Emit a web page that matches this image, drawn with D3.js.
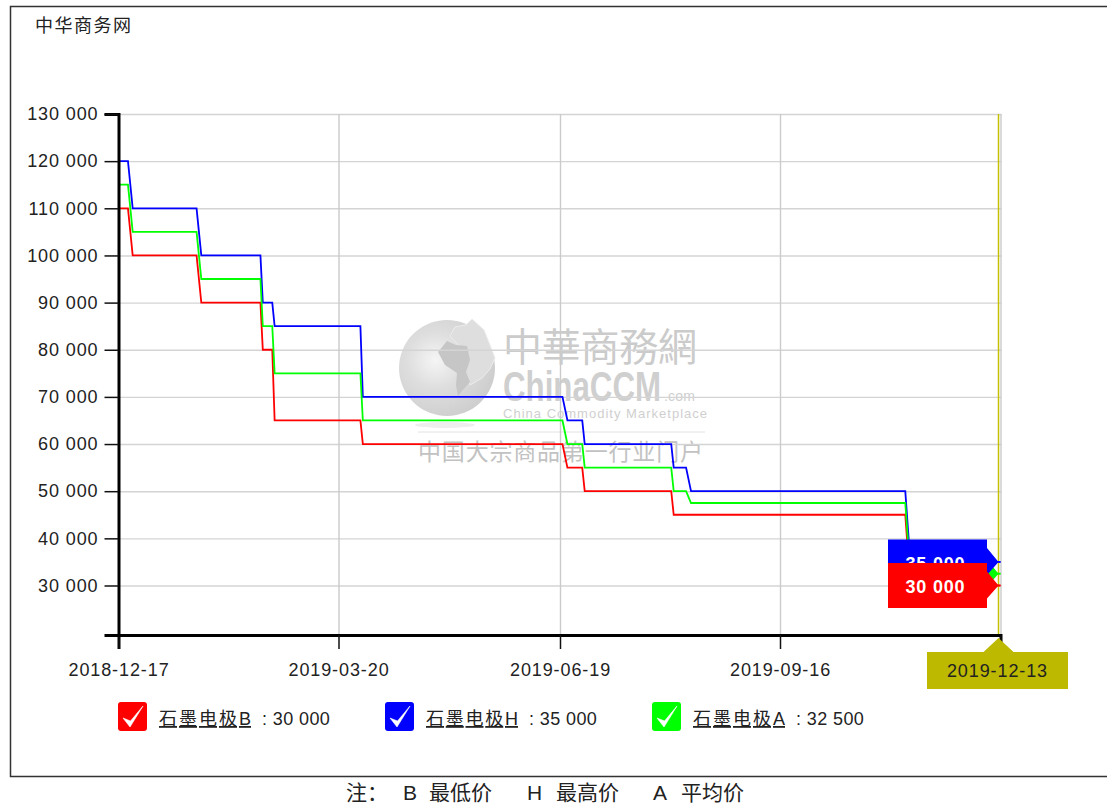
<!DOCTYPE html>
<html>
<head>
<meta charset="utf-8">
<script src="https://cdn.jsdelivr.net/npm/d3@7/dist/d3.min.js"></script>
<style>
body { margin: 0; background: #fff; }
svg { display: block; }
text { font-family: "Liberation Sans", "Noto Sans CJK SC", sans-serif; fill: #222; }
</style>
</head>
<body>
<div id="plot"></div>
<script>
var w = 1107;
var h = 806;

// tick labels
var xTickLabels = ["2018-12-17", "2019-03-20", "2019-06-19", "2019-09-16", "2019-12-13"];
var yTickValues = [30000, 40000, 50000, 60000, 70000, 80000, 90000, 100000, 110000, 120000, 130000];

// dates where the step lines change
var dates = ["2018-12-17", "2018-12-21", "2018-12-23", "2019-01-19", "2019-01-21", "2019-02-15",
             "2019-02-16", "2019-02-20", "2019-02-21", "2019-03-29", "2019-03-30", "2019-06-20",
             "2019-06-22", "2019-06-28", "2019-06-29", "2019-08-03", "2019-08-04", "2019-08-09",
             "2019-08-11", "2019-11-05", "2019-11-07", "2019-12-13"];

var lowValues  = [110000, 110000, 100000, 100000, 90000, 90000, 80000, 80000, 65000, 65000, 60000,
                  60000, 55000, 55000, 50000, 50000, 45000, 45000, 45000, 45000, 30000, 30000];
var highValues = [120000, 120000, 110000, 110000, 100000, 100000, 90000, 90000, 85000, 85000, 70000,
                  70000, 65000, 65000, 60000, 60000, 55000, 55000, 50000, 50000, 35000, 35000];
var avgValues  = [115000, 115000, 105000, 105000, 95000, 95000, 85000, 85000, 75000, 75000, 65000,
                  65000, 60000, 60000, 55000, 55000, 50000, 50000, 47500, 47500, 32500, 32500];

var seriesNames = ["石墨电极B", "石墨电极H", "石墨电极A"];
var seriesColors = ["#ff0000", "#0000ff", "#00ff00"];
var seriesValues = [lowValues, highValues, avgValues];
var footNote = ["注：", "B", "最低价", "H", "最高价", "A", "平均价"];

var left = 118.5, right = 1000.5, top_ = 114, bottom = 635;
var parseDate = d3.timeParse("%Y-%m-%d");
var fmtDate = d3.timeFormat("%Y-%m-%d");
var fmtNum = d3.formatLocale({ decimal: ".", thousands: " ", grouping: [3], currency: ["", ""] }).format(",");
var axisFont = "18px";

// the source axis is evenly spaced by trading day, so each tick interval has its own stretch
var xScale = d3.scaleTime()
               .domain(xTickLabels.map(parseDate))
               .range([left, 338.5, 560, 780, right]);

var yScale = d3.scaleLinear()
               .domain([19500, 130000])
               .range([bottom, top_]);

var svg = d3.select("#plot")
            .append("svg")
            .attr("width", w)
            .attr("height", h);

var defs = svg.append("defs");
var globeGrad = defs.append("radialGradient")
                    .attr("id", "globe")
                    .attr("cx", "0.38").attr("cy", "0.42").attr("r", "0.65");
globeGrad.append("stop").attr("offset", "0").attr("stop-color", "#f5f5f5");
globeGrad.append("stop").attr("offset", "0.45").attr("stop-color", "#dedede");
globeGrad.append("stop").attr("offset", "1").attr("stop-color", "#cdcdcd");

// frame, open on the right
svg.append("path")
   .attr("d", "M1107,6.5H10.5V776.5H1107")
   .attr("fill", "none")
   .attr("stroke", "#333")
   .attr("stroke-width", 1.5);

svg.append("text")
   .text("中华商务网")
   .attr("x", 35).attr("y", 32)
   .attr("font-size", "18px")
   .attr("textLength", 96);

// watermark
var wm = svg.append("g");
wm.append("ellipse").attr("cx", 445).attr("cy", 425).attr("rx", 30).attr("ry", 3).attr("fill", "#eee");
wm.append("circle").attr("cx", 447).attr("cy", 368).attr("r", 48).attr("fill", "url(#globe)");
wm.append("path")
  .attr("d", "M450,336L455,327L466,325L472,319L484,330L490,345L495,358L490,369L482,378L470,385L465,372L468,360L460,347Z")
  .attr("fill", "#dedede").attr("stroke", "#ececec").attr("stroke-width", 1);
wm.append("path")
  .attr("d", "M438,352L447,341L456,345L467,346L470,360L466,372L470,382L462,391L458,396L456,385L457,373L445,365Z")
  .attr("fill", "#c6c6c6");
wm.append("text").text("中華商務網")
  .attr("x", 503).attr("y", 361).attr("font-size", "39px").attr("textLength", 194)
  .style("fill", "#cbcbcb");
wm.append("text").text("ChinaCCM")
  .attr("x", 503).attr("y", 401).attr("font-size", "42px").attr("font-weight", "bold").attr("textLength", 158)
  .attr("lengthAdjust", "spacingAndGlyphs").style("fill", "#cfcfcf");
wm.append("text").text(".com")
  .attr("x", 664).attr("y", 401).attr("font-size", "14px").attr("textLength", 31)
  .style("fill", "#cfcfcf");
wm.append("text").text("China Commodity Marketplace")
  .attr("x", 503).attr("y", 418).attr("font-size", "13px").attr("textLength", 204)
  .style("fill", "#cfcfcf");
wm.append("line").attr("x1", 418).attr("x2", 705).attr("y1", 432).attr("y2", 432).attr("stroke", "#e2e2e2");
wm.append("text").text("中国大宗商品第一行业门户")
  .attr("x", 418).attr("y", 460).attr("font-size", "23px").attr("textLength", 285)
  .style("fill", "#c2c2c2");

// grid lines
var yGrid = svg.append("g")
   .attr("transform", "translate(" + left + ",0)")
   .call(d3.axisLeft(yScale).tickValues(yTickValues).tickSize(-(right + 1 - left)).tickFormat(""));
yGrid.select(".domain").remove();
yGrid.selectAll("line").attr("stroke", "#d4d4d4").attr("stroke-width", 1.4);

var xGrid = svg.append("g")
   .attr("transform", "translate(0," + bottom + ")")
   .call(d3.axisBottom(xScale).tickValues(xTickLabels.slice(1).map(parseDate)).tickSize(-(bottom - top_)).tickFormat(""));
xGrid.select(".domain").remove();
xGrid.selectAll("line").attr("stroke", "#cbcbcb").attr("stroke-width", 1.4);

// tracker line on the last day
var lastDate = parseDate(dates[dates.length - 1]);
svg.append("line")
   .attr("x1", xScale(lastDate) - 2).attr("x2", xScale(lastDate) - 2)
   .attr("y1", top_).attr("y2", bottom)
   .attr("stroke", "#c4c000").attr("stroke-width", 1.5);

// step lines
var line = d3.line()
             .x(function(d, i) { return xScale(parseDate(dates[i])); })
             .y(function(d) { return yScale(d); });

svg.selectAll(".series")
   .data([0, 1, 2])
   .enter()
   .append("path")
   .attr("class", "series")
   .attr("d", function(k) { return line(seriesValues[k]); })
   .attr("fill", "none")
   .attr("stroke", function(k) { return seriesColors[k]; })
   .attr("stroke-width", 1.8);

// axes
var xAxis = d3.axisBottom(xScale)
              .tickValues(xTickLabels.map(parseDate))
              .tickSize(14)
              .tickPadding(14)
              .tickFormat(fmtDate);
var yAxis = d3.axisLeft(yScale)
              .tickValues(yTickValues)
              .tickSize(14)
              .tickPadding(6)
              .tickFormat(fmtNum);

var gx = svg.append("g").attr("transform", "translate(0," + bottom + ")").call(xAxis);
var gy = svg.append("g").attr("transform", "translate(" + left + ",0)").call(yAxis);

[gx, gy].forEach(function(g) {
  g.select(".domain").attr("stroke", "#000").attr("stroke-width", 3);
  g.selectAll("line").attr("stroke", "#111").attr("stroke-width", 1.5);
  g.selectAll("text")
   .attr("font-size", axisFont)
   .attr("font-family", "Liberation Sans")
   .style("letter-spacing", "0.9px");
});

// last date is shown in the olive box instead
gx.selectAll(".tick:last-of-type text").remove();

// end of line value flags, the green one is fully covered so it has no label
[2, 1, 0].forEach(function(k) {
  var vals = seriesValues[k];
  var last = vals[vals.length - 1];
  var cy = yScale(last);
  var x1 = xScale(lastDate) - 2;
  svg.append("path")
     .attr("d", "M888," + (cy - 22.5) + "H987V" + (cy - 14) + "L" + x1 + "," + cy + "L987," + (cy + 13) + "V" + (cy + 22.5) + "H888Z")
     .attr("fill", seriesColors[k]);
  svg.append("line")
     .attr("x1", x1).attr("x2", xScale(lastDate))
     .attr("y1", cy).attr("y2", cy)
     .attr("stroke", seriesColors[k]).attr("stroke-width", 1.5);
  if (k === 2) return;
  svg.append("text")
     .text(fmtNum(last))
     .attr("x", 935.5).attr("y", cy + 8)
     .attr("text-anchor", "middle")
     .attr("font-size", "18px")
     .attr("font-weight", "bold")
     .style("letter-spacing", "0.8px")
     .style("fill", "#fff");
});

// x label of the last day
var xLast = xScale(lastDate) - 2;
svg.append("path")
   .attr("d", "M" + (xLast - 15) + ",652L" + xLast + ",638L" + (xLast + 15) + ",652H1068V689H927V652Z")
   .attr("fill", "#bdb800");
svg.append("text")
   .text(fmtDate(lastDate))
   .attr("x", 997.5).attr("y", 677)
   .attr("text-anchor", "middle")
   .attr("font-size", axisFont)
   .style("letter-spacing", "0.9px");

// legend
var legendX = d3.scalePoint().domain([0, 1, 2]).range([118, 652]);
var legend = svg.selectAll(".legend")
   .data([0, 1, 2])
   .enter()
   .append("g")
   .attr("class", "legend")
   .attr("transform", function(k) { return "translate(" + legendX(k) + ",702)"; });

legend.append("rect")
      .attr("width", 29).attr("height", 29).attr("rx", 3)
      .attr("fill", function(k) { return seriesColors[k]; });
legend.append("path")
      .attr("d", "M5,16L12,25L25,4L12.5,19Z")
      .attr("fill", "#fff").attr("stroke", "#fff").attr("stroke-width", 0.6);
legend.append("text")
      .text(function(k) { return seriesNames[k]; })
      .attr("x", 41).attr("y", 23)
      .attr("font-size", "18px")
      .attr("text-decoration", "underline")
      .attr("textLength", 92);
legend.append("text")
      .text(function(k) { return ": " + fmtNum(seriesValues[k][seriesValues[k].length - 1]); })
      .attr("x", 144).attr("y", 23)
      .attr("font-size", axisFont)
      .style("letter-spacing", "0.4px");

// footer note
var footX = [346, 403, 429, 527, 556, 653, 681];
svg.selectAll(".foot")
   .data(footNote)
   .enter()
   .append("text")
   .attr("class", "foot")
   .text(function(d) { return d; })
   .attr("x", function(d, i) { return footX[i]; })
   .attr("y", 800)
   .attr("font-size", "21px");
</script>
</body>
</html>
